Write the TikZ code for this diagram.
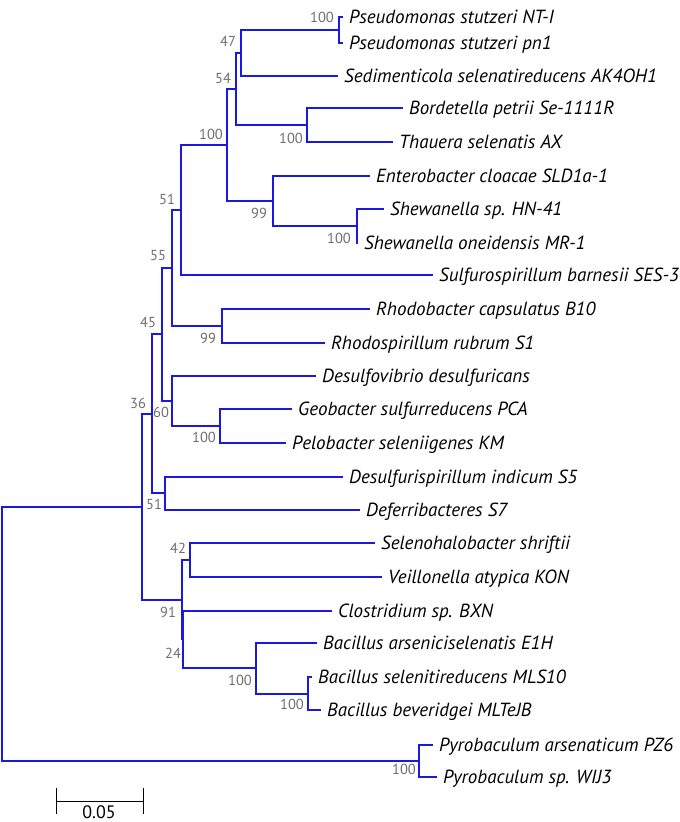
\documentclass[tikz,border=0pt]{standalone}
\usepackage{fontspec}
\setmainfont{PT Sans}
\definecolor{treeblue}{RGB}{25,25,225}
\definecolor{supportgray}{RGB}{110,110,110}
\tikzset{
  branch/.style={draw=treeblue, line width=1.4pt},
  taxon/.style={
    anchor=west,
    inner xsep=6pt,
    inner ysep=0pt,
    text height=13.3pt,
    text depth=0pt,
    font=\fontsize{19}{21}\selectfont\itshape
  },
  support/.style={inner sep=0pt, text=supportgray,
    font=\fontsize{14.5}{16}\selectfont},
  scalebar/.style={line width=0.9pt, draw=black}
}
\newcommand{\drawClade}[3]{%
  \draw[branch] (#1) |- (#2);
  \draw[branch] (#1) |- (#3);
}

\begin{document}
\begin{tikzpicture}[x=1pt,y=-1pt]

  \useasboundingbox (0,0) rectangle (680,822);

  % taxa<<<
  \node[taxon] (pstuNT) at (343,17) {Pseudomonas stutzeri NT-I};
  \node[taxon] (pstuPN) at (343,43) {Pseudomonas stutzeri pn1};
  \node[taxon] (sedi) at (338,76) {Sedimenticola selenatireducens AK4OH1};
  \node[taxon] (bord) at (403,108) {Bordetella petrii Se-1111R};
  \node[taxon] (thau) at (393,142) {Thauera selenatis AX};
  \node[taxon] (ente) at (370,176) {Enterobacter cloacae SLD1a-1};
  \node[taxon] (shewHN) at (384,209) {Shewanella sp. HN-41};
  \node[taxon] (shewMR) at (358,243) {Shewanella oneidensis MR-1};
  \node[taxon] (sulf) at (433,275) {Sulfurospirillum barnesii SES-3};
  \node[taxon] (rhodB) at (370,309) {Rhodobacter capsulatus B10};
  \node[taxon] (rhodS) at (325,343) {Rhodospirillum rubrum S1};
  \node[taxon] (dsvib) at (316,376) {Desulfovibrio desulfuricans};
  \node[taxon] (geob) at (292,409) {Geobacter sulfurreducens PCA};
  \node[taxon] (pelo) at (286,443) {Pelobacter seleniigenes KM};
  \node[taxon] (dspir) at (343,477) {Desulfurispirillum indicum S5};
  \node[taxon] (defe) at (360,510) {Deferribacteres S7};
  \node[taxon] (selh) at (375,543) {Selenohalobacter shriftii};
  \node[taxon] (veil) at (382,577) {Veillonella atypica KON};
  \node[taxon] (clos) at (332,611) {Clostridium sp. BXN};
  \node[taxon] (bacA) at (317,643) {Bacillus arseniciselenatis E1H};
  \node[taxon] (bacS) at (312,677) {Bacillus selenitireducens MLS10};
  \node[taxon] (bacB) at (321,710) {Bacillus beveridgei MLTeJB};
  \node[taxon] (pyroA) at (433,745) {Pyrobaculum arsenaticum PZ6};
  \node[taxon] (pyroW) at (437,777) {Pyrobaculum sp. WIJ3};
  % >>>

  % inner nodes<<<
  \coordinate (pseu) at (339,30);
  \coordinate (n47) at (241,53);
  \coordinate (borth) at (307,125);
  \coordinate (n54) at (236,89);
  \coordinate (shew) at (357,226);
  \coordinate (n99) at (273,201);
  \coordinate (n100) at (227,145);
  \coordinate (n51) at (181,210);
  \coordinate (rhod) at (222,326);
  \coordinate (n55) at (172,268);
  \coordinate (geop) at (220,426);
  \coordinate (n60) at (172,401);
  \coordinate (n45) at (162,334);
  \coordinate (dsdf) at (165,493);
  \coordinate (n36) at (152,414);
  \coordinate (n42) at (190,560);
  \coordinate (bacsb) at (308,694);
  \coordinate (bacil) at (256,668);
  \coordinate (n24) at (183,639);
  \coordinate (n91) at (182,600);
  \coordinate (bact) at (142,507);
  \coordinate (pyro) at (419,761);
  \coordinate (root) at (2,634);
  % >>>

  % branches<<<
  \drawClade{pseu}{pstuNT.west}{pstuPN.west}
  \drawClade{n47}{pseu}{sedi.west}
  \drawClade{borth}{bord.west}{thau.west}
  \drawClade{n54}{n47}{borth}
  \drawClade{shew}{shewHN.west}{shewMR.west}
  \drawClade{n99}{ente.west}{shew}
  \drawClade{n100}{n54}{n99}
  \drawClade{n51}{n100}{sulf.west}
  \drawClade{rhod}{rhodB.west}{rhodS.west}
  \drawClade{n55}{n51}{rhod}
  \drawClade{geop}{geob.west}{pelo.west}
  \drawClade{n60}{dsvib.west}{geop}
  \drawClade{n45}{n55}{n60}
  \drawClade{dsdf}{dspir.west}{defe.west}
  \drawClade{n36}{n45}{dsdf}
  \drawClade{n42}{selh.west}{veil.west}
  \drawClade{bacsb}{bacS.west}{bacB.west}
  \drawClade{bacil}{bacA.west}{bacsb}
  \drawClade{n24}{clos.west}{bacil}
  \drawClade{n91}{n42}{n24}
  \drawClade{bact}{n36}{n91}
  \drawClade{pyro}{pyroA.west}{pyroW.west}
  \drawClade{root}{bact}{pyro}
  % >>>

  % bootstrap values<<<
  \node[support] (bPseu) at (322,17) {100};
  \node[support] (b47) at (228,41) {47};
  \node[support] (b54) at (223,78) {54};
  \node[support] (b100) at (211,134) {100};
  \node[support] (bBorth) at (291,138) {100};
  \node[support] (b99) at (259,213) {99};
  \node[support] (bShew) at (339,238) {100};
  \node[support] (b51) at (167,199) {51};
  \node[support] (b55) at (158,256) {55};
  \node[support] (b45) at (148,322) {45};
  \node[support] (bRhod) at (208,338) {99};
  \node[support] (b36) at (138,403) {36};
  \node[support] (b60) at (161,412) {60};
  \node[support] (bGeop) at (204,437) {100};
  \node[support] (bDsdf) at (154,504) {51};
  \node[support] (b42) at (178,548) {42};
  \node[support] (b91) at (168,612) {91};
  \node[support] (b24) at (173,653) {24};
  \node[support] (bBacil) at (240,680) {100};
  \node[support] (bBacsb) at (292,704) {100};
  \node[support] (bPyro) at (404,769) {100};
  % >>>

  % scale bar<<<
  \coordinate (sbL) at (56,801);
  \coordinate (sbR) at (143,801);
  \draw[scalebar] (sbL) -- (sbR);
  \draw[scalebar] (sbL) ++(0,-13) -- ++(0,26);
  \draw[scalebar] (sbR) ++(0,-13) -- ++(0,26);
  \node[inner sep=0pt, font=\fontsize{18}{20}\selectfont] (sbText)
    at (99,812) {0.05};
  % >>>

\end{tikzpicture}
\end{document}
